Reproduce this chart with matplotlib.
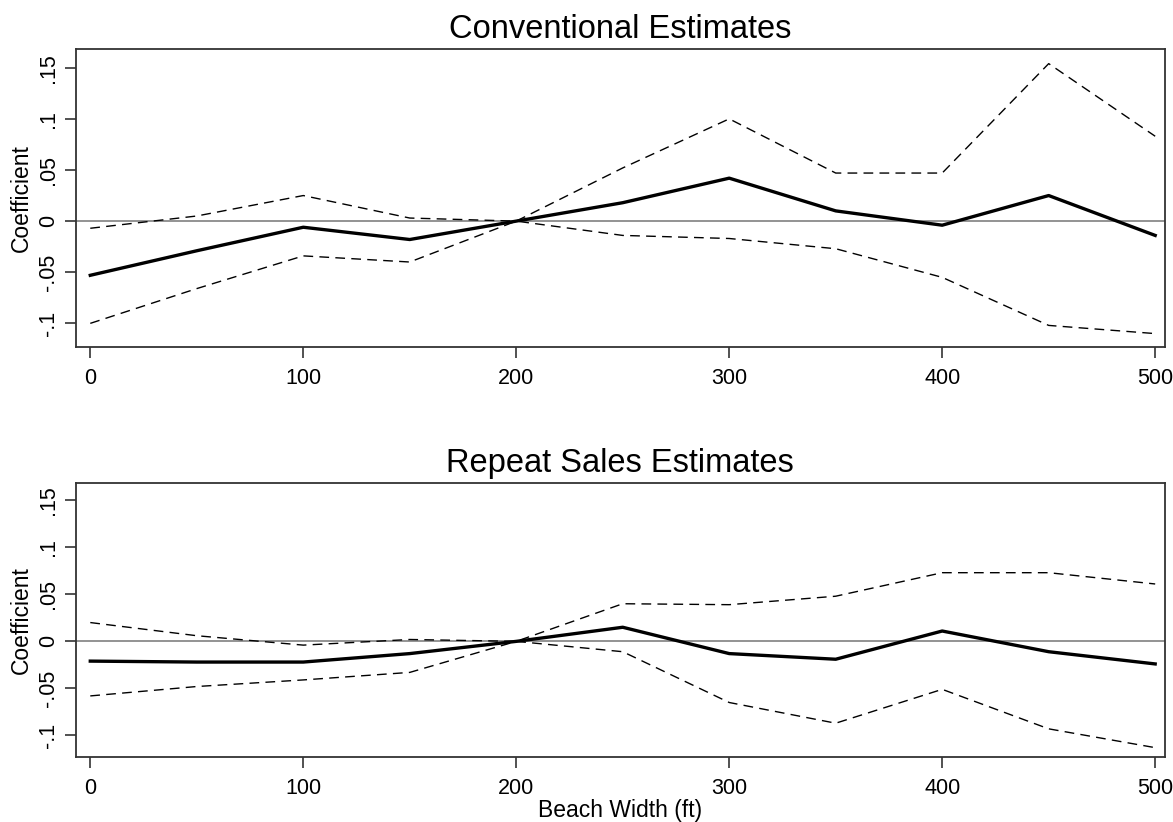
import numpy as np
import matplotlib.pyplot as plt

# beach width grid (ft)
width = [0, 50, 100, 150, 200, 250, 300, 350, 400, 450, 500]

# Conventional estimates
conv_coef = [-0.053, -0.029, -0.006, -0.018, 0.0, 0.018, 0.042, 0.010, -0.004, 0.025, -0.014]
conv_hi = [-0.007, 0.005, 0.025, 0.003, 0.0, 0.052, 0.100, 0.047, 0.047, 0.154, 0.083]
conv_lo = [-0.100, -0.066, -0.034, -0.040, 0.0, -0.014, -0.017, -0.027, -0.055, -0.102, -0.110]

# Repeat sales estimates
rep_coef = [-0.021, -0.022, -0.022, -0.013, 0.0, 0.015, -0.013, -0.019, 0.011, -0.011, -0.024]
rep_hi = [0.020, 0.006, -0.004, 0.002, 0.0, 0.040, 0.039, 0.048, 0.073, 0.073, 0.061]
rep_lo = [-0.058, -0.048, -0.041, -0.033, 0.0, -0.011, -0.065, -0.087, -0.051, -0.093, -0.113]

yticks = [-0.1, -0.05, 0, 0.05, 0.1, 0.15]
ytick_labels = ["-.1", "-.05", "0", ".05", ".1", ".15"]
xticks = [0, 100, 200, 300, 400, 500]

plt.rcParams['font.family'] = ['Liberation Sans', 'DejaVu Sans']

fig = plt.figure(figsize=(11.73, 8.22), dpi=100)
ax1 = fig.add_axes([0.0648, 0.578, 0.928, 0.362])
ax2 = fig.add_axes([0.0648, 0.079, 0.928, 0.333])

panels = [
    (ax1, "Conventional Estimates", conv_coef, conv_hi, conv_lo),
    (ax2, "Repeat Sales Estimates", rep_coef, rep_hi, rep_lo),
]

for ax, title, coef, hi, lo in panels:
    ax.axhline(0, color='#808080', linewidth=1.2, zorder=1)
    ax.plot(width, hi, color='black', linewidth=1.0, dashes=(7, 4.5), zorder=2)
    ax.plot(width, lo, color='black', linewidth=1.0, dashes=(7, 4.5), zorder=2)
    ax.plot(width, coef, color='black', linewidth=2.4, zorder=3)

    ax.set_xlim(-6.7, 504.4)
    ax.set_ylim(-0.123, 0.168)
    ax.set_xticks(xticks)
    ax.set_yticks(yticks)
    ax.set_yticklabels(ytick_labels, rotation=90, va='center')
    ax.tick_params(axis='both', direction='out', length=8, width=1.1,
                   labelsize=15.5, color='#222222', pad=7)
    ax.tick_params(axis='y', pad=4)
    for s in ax.spines.values():
        s.set_color('#333333')
        s.set_linewidth(1.3)
    ax.set_title(title, fontsize=23.5, pad=8)
    ax.set_ylabel("Coefficient", fontsize=16.5, labelpad=4)

ax2.set_xlabel("Beach Width (ft)", fontsize=16.5, labelpad=0)

fig.savefig("out.png", dpi=100)
